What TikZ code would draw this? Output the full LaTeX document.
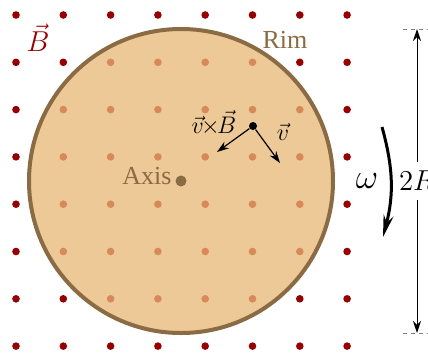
\documentclass[tikz,border=0pt]{standalone}
\usepackage{amsmath,amssymb}
\usepackage{fontspec}
\setmainfont{Liberation Serif}
\usetikzlibrary{arrows.meta}
\definecolor{disc}{RGB}{236,201,151}
\definecolor{rim}{RGB}{139,107,68}
\definecolor{dotin}{RGB}{216,137,90}
\definecolor{dotout}{RGB}{150,0,0}

\begin{document}
\begin{tikzpicture}[x=.5pt,y=-.5pt,font=\fontsize{13}{15}\selectfont,
  >={Stealth[length=6pt,width=4pt]}]
\useasboundingbox (0,0) rectangle (428,354);
%\draw[help lines] (0,0) grid (428,354);
\draw[fill=disc,draw=rim,line width=2pt] (181,181) circle[radius=152];
\foreach \i in {0,...,7}
\foreach \j in {0,...,7}{
  \pgfmathsetmacro\px{16+47.3*\i}
  \pgfmathsetmacro\py{15+47.3*\j}
  \pgfmathtruncatemacro\inside{veclen(\px-181,\py-181)<150}
  \ifnum\inside=1 \fill[dotin] (\px,\py) circle[radius=3.8];
  \else \fill[dotout] (\px,\py) circle[radius=3.8]; \fi
}
\path
(181,181) node[circle,fill=rim,inner sep=0pt,minimum size=5.5pt] (ax) {}
(147,176) node[text=rim] (axis) {Axis}
(285,40) node[text=rim] (rimlbl) {Rim}
(38,38) node[text=dotout,font=\fontsize{14}{16}\selectfont] (b) {$\vec{B}$}
(253,126) node[circle,fill,inner sep=0pt,minimum size=4pt] (p) {}
(280,163) coordinate (v)
(217,152) coordinate (vb)
(214,123) node[font=\fontsize{11.5}{14}\selectfont,inner sep=1pt] (vblbl) {$\vec{v}\mkern-2mu{\times}\mkern-2mu\vec{B}$}
(283,132) node[font=\fontsize{13}{15}\selectfont] (vlbl) {$\vec{v}$};
\draw[->,line width=.6pt] (p) -- (v);
\draw[->,line width=.6pt] (p) -- (vb);
%% rotation
\path
(382,127) coordinate (w1)
(383,237) coordinate (w2)
(367,181) node[font=\fontsize{16}{18}\selectfont] (om) {$\omega$};
\draw[->,line width=1.5pt,>={Stealth[length=11pt,width=5pt]}] (w1) to[bend left=15] (w2);
%% diameter
\path
(403,29) coordinate (t1) (430,29) coordinate (t2)
(403,333) coordinate (b1) (430,333) coordinate (b2)
(417,29) coordinate (top) (417,333) coordinate (bot)
(417,181) node[inner ysep=4.5pt,font=\fontsize{14}{16}\selectfont] (dim) {$2R$};
\draw[dashed,gray,dash pattern=on 2pt off 2pt,line width=.4pt] (t1) -- (t2) (b1) -- (b2);
\draw[->,line width=.5pt] (dim) -- (top);
\draw[->,line width=.5pt] (dim) -- (bot);
\end{tikzpicture}
\end{document}
